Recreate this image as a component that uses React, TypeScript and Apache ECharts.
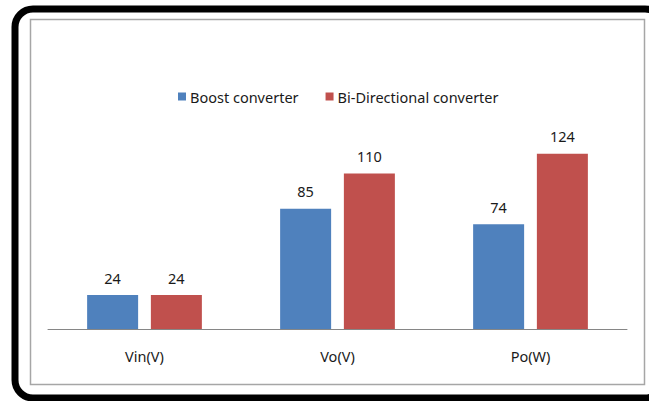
import React, { useEffect, useRef } from "react";
import * as echarts from "echarts";

const categories = ["Vin(V)", "Vo(V)", "Po(W)"];
const boostValues = [24, 85, 74];
const biDirValues = [24, 110, 124];
const seriesNames = ["Boost converter", "Bi-Directional converter"];

const FONT = "'Noto Sans', sans-serif";
const FS = 14.5;

export default function App() {
  const ref = useRef<HTMLDivElement>(null);
  useEffect(() => {
    if (!ref.current) return;
    const chart = echarts.init(ref.current, null, { renderer: "svg" });
    const label = {
      show: true,
      position: "top" as const,
      distance: 10,
      color: "#1a1a1a",
      fontSize: FS,
      fontFamily: FONT,
    };
    chart.setOption({
      animation: false,
      backgroundColor: "#ffffff",
      graphic: [
        {
          type: "rect",
          shape: { x: 15, y: 9, width: 648, height: 389, r: 18 },
          style: { fill: "none", stroke: "#000000", lineWidth: 7 },
          z: 10,
        },
        {
          type: "rect",
          shape: { x: 30.5, y: 19.5, width: 614, height: 365 },
          style: { fill: "none", stroke: "#a6a6a6", lineWidth: 1.5 },
          z: 10,
        },
      ],
      legend: {
        left: 173,
        top: 84,
        icon: "rect",
        itemWidth: 8,
        itemHeight: 8,
        itemGap: 27,
        textStyle: { color: "#1a1a1a", fontSize: FS, fontFamily: FONT, padding: [0, 0, 0, -1] },
        data: seriesNames,
      },
      grid: { left: 48, right: 22, top: 131, bottom: 72, containLabel: false },
      xAxis: {
        type: "category",
        data: categories,
        axisTick: { show: false },
        axisLine: { lineStyle: { color: "#868686", width: 1 } },
        axisLabel: { color: "#1a1a1a", fontSize: FS, fontFamily: FONT, margin: 19 },
      },
      yAxis: {
        type: "value",
        min: 0,
        max: 140,
        interval: 20,
        show: false,
        splitLine: { show: false },
      },
      series: [
        {
          name: seriesNames[0],
          type: "bar",
          data: boostValues,
          barWidth: 51,
          barGap: "25%",
          itemStyle: { color: "#4f81bd" },
          label,
        },
        {
          name: seriesNames[1],
          type: "bar",
          data: biDirValues,
          barWidth: 51,
          itemStyle: { color: "#c0504d" },
          label,
        },
      ],
    });
    return () => chart.dispose();
  }, []);
  return (
    <div
      ref={ref}
      style={{ position: "fixed", left: 0, top: 0, width: 649, height: 401 }}
    />
  );
}
